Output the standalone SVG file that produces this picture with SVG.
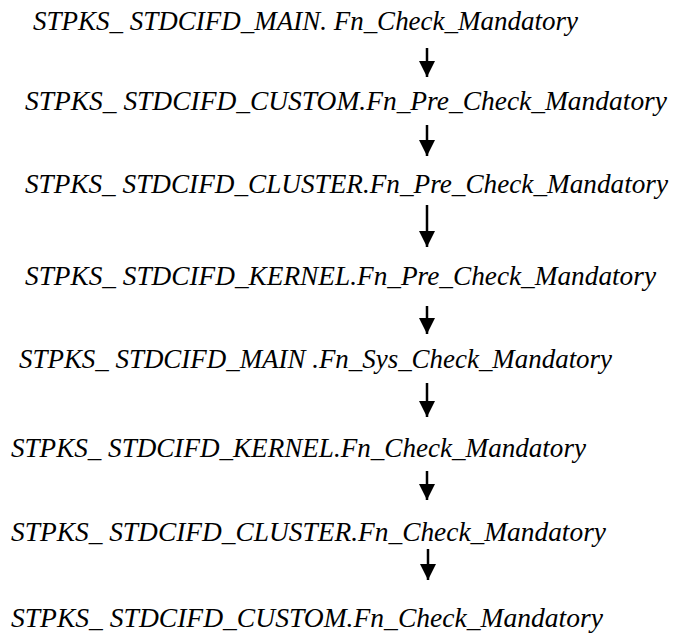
<svg xmlns="http://www.w3.org/2000/svg" width="674" height="635" viewBox="0 0 674 635">
  <style>
    .lbl { font-family: "Liberation Serif", "DejaVu Serif", serif; font-style: italic; font-size: 27.5px; fill: #000; }
    .arr { stroke: #000; stroke-width: 2.5; fill: none; }
  </style>
  <defs>
    <marker id="ah" viewBox="0 0 16 16" refX="16" refY="8" markerWidth="16" markerHeight="16" markerUnits="userSpaceOnUse" orient="auto">
      <path d="M0,0 L16,8 L0,16 Z" fill="#000"/>
    </marker>
  </defs>
  <rect width="674" height="635" fill="#fff"/>
  <g id="n1"><text class="lbl" x="33" y="30" textLength="545" lengthAdjust="spacingAndGlyphs">STPKS_ STDCIFD_MAIN. Fn_Check_Mandatory</text></g>
  <g id="n2"><text class="lbl" x="25" y="110" textLength="642" lengthAdjust="spacingAndGlyphs">STPKS_ STDCIFD_CUSTOM.Fn_Pre_Check_Mandatory</text></g>
  <g id="n3"><text class="lbl" x="25" y="193" textLength="643" lengthAdjust="spacingAndGlyphs">STPKS_ STDCIFD_CLUSTER.Fn_Pre_Check_Mandatory</text></g>
  <g id="n4"><text class="lbl" x="25" y="285" textLength="631" lengthAdjust="spacingAndGlyphs">STPKS_ STDCIFD_KERNEL.Fn_Pre_Check_Mandatory</text></g>
  <g id="n5"><text class="lbl" x="19" y="368" textLength="593" lengthAdjust="spacingAndGlyphs">STPKS_ STDCIFD_MAIN .Fn_Sys_Check_Mandatory</text></g>
  <g id="n6"><text class="lbl" x="11" y="457" textLength="575" lengthAdjust="spacingAndGlyphs">STPKS_ STDCIFD_KERNEL.Fn_Check_Mandatory</text></g>
  <g id="n7"><text class="lbl" x="11" y="541" textLength="595" lengthAdjust="spacingAndGlyphs">STPKS_ STDCIFD_CLUSTER.Fn_Check_Mandatory</text></g>
  <g id="n8"><text class="lbl" x="11" y="627" textLength="592" lengthAdjust="spacingAndGlyphs">STPKS_ STDCIFD_CUSTOM.Fn_Check_Mandatory</text></g>
  <g id="connectors">
    <line class="arr" x1="427" y1="48" x2="427" y2="77" marker-end="url(#ah)"/>
    <line class="arr" x1="427" y1="125" x2="427" y2="156" marker-end="url(#ah)"/>
    <line class="arr" x1="427" y1="205" x2="427" y2="247" marker-end="url(#ah)"/>
    <line class="arr" x1="427" y1="306" x2="427" y2="334" marker-end="url(#ah)"/>
    <line class="arr" x1="427" y1="383" x2="427" y2="417" marker-end="url(#ah)"/>
    <line class="arr" x1="427" y1="471" x2="427" y2="500" marker-end="url(#ah)"/>
    <line class="arr" x1="428" y1="549" x2="428" y2="580" marker-end="url(#ah)"/>
  </g>
</svg>
